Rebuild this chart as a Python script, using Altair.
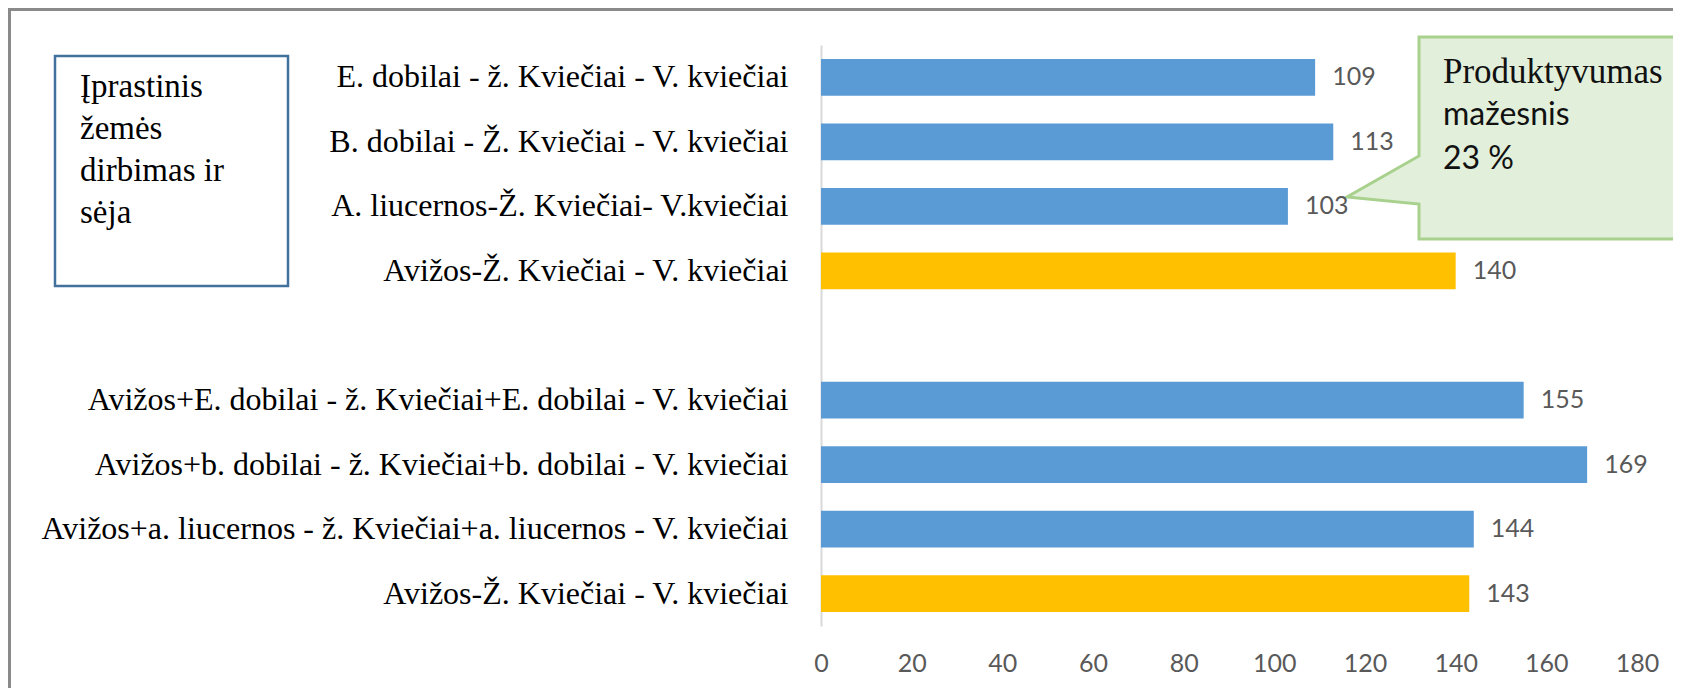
import json
import altair as alt
import pandas as pd

# ---- data ----
categories = [
    "E. dobilai - ž. Kviečiai - V. kviečiai",
    "B. dobilai - Ž. Kviečiai - V. kviečiai",
    "A. liucernos-Ž. Kviečiai- V.kviečiai",
    "Avižos-Ž. Kviečiai - V. kviečiai",
    "",
    "Avižos+E. dobilai - ž. Kviečiai+E. dobilai - V. kviečiai",
    "Avižos+b. dobilai - ž. Kviečiai+b. dobilai - V. kviečiai",
    "Avižos+a. liucernos - ž. Kviečiai+a. liucernos - V. kviečiai",
    "Avižos-Ž. Kviečiai - V. kviečiai",
]
values = [109, 113, 103, 140, None, 155, 169, 144, 143]
groups = ["ankštiniai", "ankštiniai", "ankštiniai", "kontrolė", None,
          "ankštiniai", "ankštiniai", "ankštiniai", "kontrolė"]
group_names = ["ankštiniai", "kontrolė"]
group_colors = ["#5B9BD5", "#FFC000"]
x_ticks = [0, 20, 40, 60, 80, 100, 120, 140, 160, 180]
box_lines = ["Įprastinis", "žemės", "dirbimas ir", "sėja"]
callout_title = "Produktyvumas"
callout_lines = ["mažesnis", "23 %"]

rows = [str(i) for i in range(len(categories))]
df = pd.DataFrame({"row": rows, "value": values, "group": groups}).dropna()
df["value"] = df["value"].astype(int)

# ---- layout (page pixels) ----
OX, OY = 821, 45          # plot-area origin on the page
W, H = 816, 581


def px(x):
    return x - OX


def py(y):
    return y - OY


label_expr = json.dumps(categories, ensure_ascii=False) + "[toNumber(datum.value)]"

x_enc = alt.X(
    "value:Q",
    scale=alt.Scale(domain=[0, 180], nice=False),
    axis=alt.Axis(values=x_ticks, title=None, grid=False, domain=False, ticks=False,
                  tickSize=0, labelPadding=37, labelBaseline="middle", labelFont="Lato",
                  labelFontSize=25, labelColor="#595959", labelFlush=False,
                  labelOverlap=False),
)
y_enc = alt.Y(
    "row:N",
    scale=alt.Scale(domain=rows, paddingInner=0.43, paddingOuter=0.215),
    axis=alt.Axis(title=None, labelExpr=label_expr, domain=True, domainColor="#d9d9d9",
                  domainWidth=2, ticks=False, tickSize=0, labelPadding=33,
                  labelFont="Liberation Serif", labelFontSize=32, labelColor="#000000",
                  labelLimit=1200, grid=False),
)

base = alt.Chart(df)
bars = base.mark_bar().encode(
    x=x_enc, y=y_enc,
    color=alt.Color("group:N", scale=alt.Scale(domain=group_names, range=group_colors), legend=None),
)
value_labels = base.mark_text(align="left", baseline="middle", dx=17, font="Lato",
                              fontSize=25, color="#595959").encode(
    x=alt.X("value:Q"), y=alt.Y("row:N"), text=alt.Text("value:Q", format="d"))

one = alt.Chart(pd.DataFrame({"k": [0]}))

# outer frame (top and left edges visible in the reference)
frame_left = one.mark_rule(color="#8a8a8a", strokeWidth=3).encode(
    x=alt.value(px(9.5)), y=alt.value(py(8)), y2=alt.value(py(700)))
frame_top = one.mark_rule(color="#8a8a8a", strokeWidth=3).encode(
    x=alt.value(px(8)), x2=alt.value(px(1700)), y=alt.value(py(9.5)))

# left text box
box_rect = one.mark_rect(fill="white", stroke="#41719C", strokeWidth=2.5).encode(
    x=alt.value(px(55)), x2=alt.value(px(288)), y=alt.value(py(56)), y2=alt.value(py(286)))
box_text = one.mark_text(align="left", baseline="alphabetic", font="Liberation Serif",
                         fontSize=33, lineHeight=42, color="#000000").encode(
    x=alt.value(px(80)), y=alt.value(py(97)), text=alt.value(box_lines))

# callout shape as a custom symbol path
cx, cy, half = 1518, 138, 200
poly = [(1419, 37), (1700, 37), (1700, 239), (1419, 239), (1419, 204), (1347, 197), (1419, 156)]
path = "M" + " L".join(f"{(x - cx) / half:.4f},{(y - cy) / half:.4f}" for x, y in poly) + " Z"
callout = one.mark_point(shape=path, size=(2 * half) ** 2, filled=True, fill="#E2EFDA",
                         stroke="#A9D18E", strokeWidth=3, opacity=1).encode(
    x=alt.value(px(cx)), y=alt.value(py(cy)))
callout_t1 = one.mark_text(align="left", baseline="alphabetic", font="Liberation Serif",
                           fontSize=35, color="#111111").encode(
    x=alt.value(px(1443)), y=alt.value(py(83)), text=alt.value(callout_title))
callout_t2 = one.mark_text(align="left", baseline="alphabetic", font="Lato",
                           fontSize=32, lineHeight=44, color="#111111").encode(
    x=alt.value(px(1443)), y=alt.value(py(125)), text=alt.value(callout_lines))

chart = alt.layer(
    frame_left, frame_top, box_rect, box_text, callout, callout_t1, callout_t2,
    bars, value_labels,
).properties(
    width=W, height=H,
    autosize=alt.AutoSizeParams(type="none"),
    padding={"left": OX - 8, "top": OY - 8, "right": 1665 - (OX - 8) - W, "bottom": 680 - (OY - 8) - H},
    background="white",
).configure_view(strokeWidth=0)

chart.save("out.html", embed_options={"renderer": "svg", "actions": False})
